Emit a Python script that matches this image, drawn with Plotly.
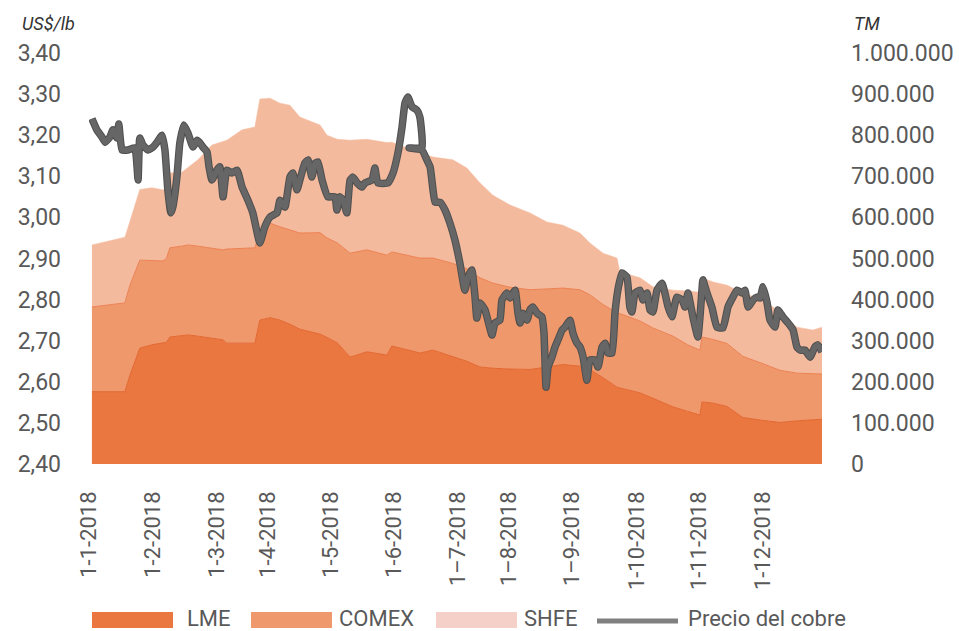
import plotly.graph_objects as go

# ---------------- data ----------------
month_labels = ["1-1-2018", "1-2-2018", "1-3-2018", "1-4-2018", "1-5-2018", "1-6-2018",
                "1–7-2018", "1–8-2018", "1–9-2018", "1-10-2018", "1-11-2018", "1-12-2018"]
# position of each month start, in trading-day index
month_pos = [-0.9, 20.8, 42.7, 60.2, 81.8, 103.4, 125.2, 142.6, 164.5, 186.5, 207.9, 229.7]

# copper price (US$/lb), trading-day index
price_day = [0, 1.7, 3.4, 4.5, 6.2, 7.2, 8.6, 9.2, 10.3, 12.3, 14.7, 15.8, 16.4, 17.5, 19.2, 20.9,
             22.3, 24.0, 25, 26, 27, 27.7, 29.1, 30.1, 31.5, 32.9, 34.6, 36, 37, 38, 39.4, 40.1,
             41.1, 42.8, 43.8, 44.9, 46.2, 47.9, 49.7, 51.4, 53.4, 55.1, 57.5, 59.2, 61, 63.4,
             64.4, 66.1, 67.8, 68.8, 70.2, 71.2, 72.9, 74, 75.3, 76.4, 77.4, 78.8, 80.8, 83.2,
             83.9, 84.9, 86, 87.3, 88.4, 89.4, 90.8, 92.5, 93.5, 95.9, 96.9, 97.9, 101.4, 103.1,
             104.8, 106.2, 107.2, 108.2, 109.6, 111.3, 112.3, 113, 108.6, 113, 114.7, 115.8,
             116.8, 117.5, 119.2, 120.9, 122.6, 124.3, 126, 127.7, 128.8, 130.1, 131.2, 131.8,
             132.9, 134.6, 137, 138, 139.7, 140.4, 142.1, 143.2, 144.9, 145.9, 146.6, 147.6,
             149, 150, 151, 152.4, 154.1, 154.8, 155.5, 156.2, 157.5, 158.6, 159.6, 161, 162,
             163.7, 164.7, 166.1, 167.1, 168.2, 169.5, 170.5, 172.3, 173.3, 174.7, 175.7,
             176.7, 178.1, 179.1, 180.1, 181.5, 183.2, 184.2, 184.9, 186, 187.7, 188.7, 190.1,
             191.1, 192.1, 193.5, 195.2, 196.2, 197.3, 198.6, 200.3, 202.1, 203.1, 204.1,
             205.8, 207.5, 208.9, 209.2, 210.6, 212.3, 214, 216.1, 217.8, 219.5, 220.9, 222.6,
             223.6, 224.7, 226.4, 227.7, 228.8, 229.8, 231.2, 232.2, 233.9, 234.9, 236.6,
             238.4, 240.1, 241.4, 242.5, 244.2, 245.9, 247.6, 248.6, 250]
price = [3.240, 3.213, 3.196, 3.183, 3.196, 3.213, 3.193, 3.227, 3.164, 3.164, 3.169, 3.091,
         3.193, 3.176, 3.164, 3.171, 3.183, 3.200, 3.164, 3.067, 3.011, 3.025, 3.098, 3.181,
         3.225, 3.205, 3.171, 3.188, 3.181, 3.171, 3.159, 3.123, 3.091, 3.115, 3.123, 3.050,
         3.115, 3.108, 3.115, 3.074, 3.042, 3.011, 2.938, 2.977, 3.001, 3.011, 3.042, 3.025,
         3.098, 3.108, 3.067, 3.091, 3.132, 3.140, 3.098, 3.132, 3.135, 3.091, 3.050, 3.050,
         3.018, 3.050, 3.042, 3.011, 3.091, 3.098, 3.084, 3.074, 3.084, 3.091, 3.120, 3.084,
         3.084, 3.108, 3.157, 3.220, 3.278, 3.293, 3.269, 3.261, 3.244, 3.169, 3.169, 3.164,
         3.140, 3.123, 3.067, 3.037, 3.037, 3.018, 2.986, 2.945, 2.889, 2.823, 2.855, 2.872,
         2.806, 2.755, 2.792, 2.775, 2.714, 2.743, 2.750, 2.799, 2.816, 2.804, 2.823, 2.767,
         2.743, 2.767, 2.750, 2.775, 2.782, 2.767, 2.758, 2.719, 2.587, 2.636, 2.660, 2.685,
         2.702, 2.726, 2.733, 2.750, 2.719, 2.694, 2.685, 2.660, 2.604, 2.653, 2.653, 2.636,
         2.685, 2.694, 2.670, 2.670, 2.767, 2.823, 2.865, 2.855, 2.782, 2.770, 2.816, 2.823,
         2.799, 2.816, 2.775, 2.770, 2.823, 2.840, 2.816, 2.782, 2.758, 2.806, 2.799, 2.782,
         2.816, 2.758, 2.709, 2.823, 2.848, 2.816, 2.782, 2.733, 2.731, 2.782, 2.806, 2.823,
         2.816, 2.823, 2.782, 2.799, 2.806, 2.804, 2.831, 2.792, 2.750, 2.733, 2.775, 2.758,
         2.743, 2.726, 2.685, 2.677, 2.677, 2.660, 2.685, 2.690, 2.673]

# stocks (TM), trading-day index
stock_day = [0, 4.5, 11.3, 13, 16.4, 20.5, 24.3, 25.5, 26.7, 30.8, 33, 36.3, 41.1, 44.9, 46.2,
             51.4, 55.8, 57.5, 61, 64.4, 67.8, 71.2, 78.1, 80.5, 84, 88.4, 94.2, 101, 102.7,
             107.9, 112.3, 116.8, 123.6, 128.4, 132.9, 137.3, 143.2, 150, 155.8, 161.3, 167.1,
             170.5, 175, 179.8, 180.8, 187.7, 192.1, 199, 204, 208.2, 208.9, 212.7, 217.5,
             222.9, 229.8, 235.6, 241.4, 246.9, 250]
lme = [176000, 176000, 176000, 216000, 282000, 290000, 294000, 296000, 309000, 312000, 314000,
       311000, 306000, 302000, 294000, 294000, 294000, 350000, 356000, 350000, 340000, 328000,
       316000, 308000, 295000, 260000, 273000, 265000, 287000, 278000, 270000, 277000, 262000,
       250000, 236000, 233000, 231000, 230000, 236000, 242000, 238000, 230000, 210000, 187000,
       185000, 173000, 160000, 139000, 128000, 119000, 151000, 148000, 140000, 113000, 106000,
       101000, 105000, 108000, 109000]
comex = [206000, 210000, 216000, 219000, 214000, 205000, 200000, 204000, 217000, 218000, 219000,
         219000, 219000, 219000, 229000, 231000, 232000, 215000, 230000, 227000, 230000, 234000,
         247000, 242000, 243000, 253000, 248000, 243000, 229000, 230000, 231000, 224000, 226000,
         225000, 217000, 207000, 199000, 194000, 190000, 186000, 186000, 182000, 178000, 181000,
         181000, 175000, 171000, 172000, 162000, 158000, 158000, 155000, 153000, 149000, 138000,
         127000, 116000, 112000, 110000]
shfe = [151000, 154000, 160000, 155000, 172000, 177000, 173000, 168000, 182000, 180000, 189000,
        210000, 251000, 265000, 265000, 288000, 294000, 323000, 304000, 301000, 303000, 282000,
        262000, 250000, 252000, 275000, 269000, 274000, 267000, 261000, 258000, 246000, 252000,
        245000, 231000, 214000, 200000, 187000, 163000, 153000, 138000, 126000, 125000, 133000,
        101000, 105000, 100000, 112000, 131000, 141000, 144000, 140000, 142000, 154000, 155000,
        142000, 112000, 106000, 114000]

series_names = ["LME", "COMEX", "SHFE", "Precio del cobre"]

# ---------------- style ----------------
FONT = "Roboto"
TXT = "#595959"
C_LME, C_COMEX, C_SHFE = "#E9773F", "#EF986C", "#F4BA9E"
C_SHFE_LEG = "#F5D0C8"
C_LINE = "#666666"

W, H = 959, 631
L, R, T, B = 89, 137, 53, 167
PW, PH = W - L - R, H - T - B


def px_x(px):
    return (px - L) / PW


def px_y(py):
    return (H - B - py) / PH


fig = go.Figure()
fig.add_trace(go.Scatter(x=stock_day, y=lme, name=series_names[0], stackgroup="s", mode="lines",
                         line=dict(color="#E3662F", width=1), fillcolor=C_LME, yaxis="y"))
fig.add_trace(go.Scatter(x=stock_day, y=comex, name=series_names[1], stackgroup="s", mode="lines",
                         line=dict(color="#EC8050", width=1), fillcolor=C_COMEX, yaxis="y"))
fig.add_trace(go.Scatter(x=stock_day, y=shfe, name=series_names[2], stackgroup="s", mode="lines",
                         line=dict(color=C_SHFE, width=0.5), fillcolor=C_SHFE, yaxis="y"))
fig.add_trace(go.Scatter(x=price_day, y=price, name=series_names[3], mode="lines",
                         line=dict(color="#4f4f4f", width=7.5, shape="spline", smoothing=0.4),
                         yaxis="y2", showlegend=False))
fig.add_trace(go.Scatter(x=price_day, y=price, name=series_names[3], mode="lines",
                         line=dict(color=C_LINE, width=5.5, shape="spline", smoothing=0.4),
                         yaxis="y2"))

tick_font = dict(family=FONT, size=22, color=TXT)
ytick_font = dict(family=FONT, size=23, color=TXT)

shapes = []
annotations = []
# manual legend
leg_items = [
    (series_names[0], "rect", C_LME, 92, 173, 185),
    (series_names[1], "rect", C_COMEX, 251, 332, 337),
    (series_names[2], "rect", C_SHFE_LEG, 436, 517, 522),
    (series_names[3], "line", "#808080", 597, 678, 686),
]
for name, kind, col, x0, x1, tx in leg_items:
    if kind == "rect":
        shapes.append(dict(type="rect", xref="paper", yref="paper",
                           x0=px_x(x0), x1=px_x(x1), y0=px_y(628), y1=px_y(612),
                           fillcolor=col, line=dict(width=0)))
    else:
        shapes.append(dict(type="line", xref="paper", yref="paper",
                           x0=px_x(x0), x1=px_x(x1), y0=px_y(621), y1=px_y(621),
                           line=dict(color=col, width=5)))
    annotations.append(dict(text=name, xref="paper", yref="paper", x=px_x(tx), y=px_y(618),
                            xanchor="left", yanchor="middle", showarrow=False,
                            font=dict(family=FONT, size=22, color=TXT)))

annotations.append(dict(text="<i>US$/lb</i>", xref="paper", yref="paper", x=px_x(20), y=px_y(23),
                        xanchor="left", yanchor="middle", showarrow=False,
                        font=dict(family=FONT, size=18, color="#333333")))
annotations.append(dict(text="<i>TM</i>", xref="paper", yref="paper", x=px_x(852), y=px_y(23),
                        xanchor="left", yanchor="middle", showarrow=False,
                        font=dict(family=FONT, size=18, color="#333333")))

fig.update_layout(
    width=W, height=H,
    margin=dict(l=L, r=R, t=T, b=B, autoexpand=False),
    paper_bgcolor="white", plot_bgcolor="white",
    separators=",.",
    showlegend=False,
    font=dict(family=FONT, color=TXT),
    xaxis=dict(range=[-1, 250], tickmode="array", tickvals=month_pos, ticktext=month_labels,
               tickangle=-90, showgrid=False, zeroline=False, showline=False, ticks="",
               ticklabelstandoff=22, tickfont=tick_font, automargin=False),
    yaxis=dict(range=[0, 1000000], tick0=0, dtick=100000, side="right", tickformat=",.0f",
               showgrid=False, zeroline=False, showline=False, ticks="", automargin=False,
               ticklabelstandoff=28, tickfont=ytick_font),
    yaxis2=dict(range=[2.40, 3.40], tick0=2.40, dtick=0.1, side="left", overlaying="y",
                tickformat=".2f", showgrid=False, zeroline=False, showline=False, ticks="",
                automargin=False, ticklabelstandoff=27, tickfont=ytick_font),
    shapes=shapes,
    annotations=annotations,
)

fig.write_html("out.html", config={"displayModeBar": False},
               post_script="document.body.style.margin='0';document.body.style.overflow='hidden';")
